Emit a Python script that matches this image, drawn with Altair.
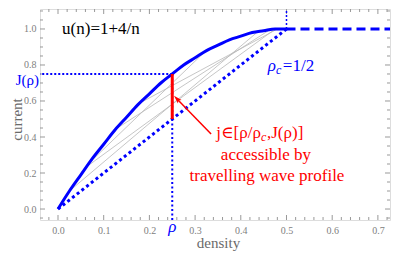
import altair as alt
import pandas as pd

# ---------------- data ----------------
rho_curve = [0.0, 0.025, 0.05, 0.075, 0.1, 0.125, 0.15, 0.175, 0.2, 0.225, 0.25,
             0.275, 0.3, 0.325, 0.35, 0.375, 0.4, 0.425, 0.45, 0.475, 0.5]
J_curve = [0.0, 0.10, 0.19, 0.28, 0.36, 0.44, 0.51, 0.58, 0.64, 0.70, 0.75,
           0.80, 0.84, 0.88, 0.91, 0.94, 0.96, 0.98, 0.99, 1.00, 1.00]

rho_sel = 0.25      # chosen density rho
J_sel = 0.75        # J(rho)
j_low = 0.50        # rho/rho_c
rho_c = 0.5
J_max = 1.0

# thin grey chords (travelling wave profiles)
chord_rho1 = [0.025, 0.06, 0.13, 0.07, 0.18]
chord_j1 = [0.10, 0.23, 0.45, 0.26, 0.59]
chord_rho2 = [0.435, 0.47, 0.46, 0.32, 0.48]
chord_j2 = [0.98, 0.99, 0.99, 0.87, 1.00]

# arrow (start -> head)
arrow_rho = [0.335, 0.261]
arrow_j = [0.417, 0.610]

x_major = [0.0, 0.1, 0.2, 0.3, 0.4, 0.5, 0.6, 0.7]
y_major = [0.0, 0.2, 0.4, 0.6, 0.8, 1.0]
x_minor = [v for v in [round(-0.02 + 0.02 * i, 2) for i in range(38)]
           if abs(v * 10 - round(v * 10)) > 1e-6]
y_minor = [v for v in [round(-0.05 + 0.05 * i, 2) for i in range(24)]
           if abs(v * 5 - round(v * 5)) > 1e-6]

# ---------------- layout ----------------
W, H = 350, 211
XMIN, XMAX = -0.0394, 0.7265
YMIN, YMAX = -0.061, 1.111
FONT = "Liberation Serif, Times New Roman, DejaVu Serif, serif"
GREY = "#999999"
BLUE = "#0000ff"
RED = "#ff0000"

xs = alt.Scale(domain=[XMIN, XMAX], nice=False, zero=False)
ys = alt.Scale(domain=[YMIN, YMAX], nice=False, zero=False)

xaxis = alt.Axis(values=x_major, format=".1f", ticks=False, domain=False, grid=False,
                 labelFont=FONT, labelFontSize=10, labelColor="#808080", labelPadding=5,
                 labelFlush=False, labelOverlap=False,
                 title="density", titleFont=FONT, titleFontSize=15, titleFontWeight="normal",
                 titleColor="#6a6a6a", titleX=178, titleY=27, titleAlign="center",
                 titleBaseline="alphabetic")
yaxis = alt.Axis(values=y_major, format=".1f", ticks=False, domain=False, grid=False,
                 labelFont=FONT, labelFontSize=10, labelColor="#808080", labelPadding=4,
                 labelFlush=False, labelOverlap=False,
                 title="current", titleFont=FONT, titleFontSize=15, titleFontWeight="normal",
                 titleColor="#6a6a6a", titleX=-24, titleY=110, titleAlign="center",
                 titleBaseline="middle", titleAngle=270)


def X(f):
    return alt.X(f, type="quantitative", scale=xs, axis=xaxis)


def Y(f):
    return alt.Y(f, type="quantitative", scale=ys, axis=yaxis)


layers = []


# frame ticks (inward)
def tick_layers(vals, length, axis):
    d = pd.DataFrame({"v": vals})
    out = []
    if axis == "x":
        out.append(alt.Chart(d).mark_rule(color=GREY, strokeWidth=1).encode(
            x=X("v"), y=alt.value(H), y2=alt.value(H - length)))
        out.append(alt.Chart(d).mark_rule(color=GREY, strokeWidth=1).encode(
            x=X("v"), y=alt.value(0), y2=alt.value(length)))
    else:
        out.append(alt.Chart(d).mark_rule(color=GREY, strokeWidth=1).encode(
            y=Y("v"), x=alt.value(0), x2=alt.value(length)))
        out.append(alt.Chart(d).mark_rule(color=GREY, strokeWidth=1).encode(
            y=Y("v"), x=alt.value(W), x2=alt.value(W - length)))
    return out


layers += tick_layers(x_major, 5, "x")
layers += tick_layers(x_minor, 3, "x")
layers += tick_layers(y_major, 5, "y")
layers += tick_layers(y_minor, 3, "y")

# grey chords
chords = pd.DataFrame({"r1": chord_rho1, "j1": chord_j1, "r2": chord_rho2, "j2": chord_j2})
layers.append(alt.Chart(chords).mark_rule(color="#b8b8b8", strokeWidth=0.8).encode(
    x=X("r1"), y=Y("j1"), x2=alt.X2("r2"), y2=alt.Y2("j2")))

# dotted helper lines
sel = pd.DataFrame({"r": [rho_sel], "J": [J_sel], "lo": [j_low]})
layers.append(alt.Chart(sel).mark_rule(color=BLUE, strokeWidth=2, strokeDash=[2, 2.5]).encode(
    x=X("r"), y=Y("J"), y2=alt.value(H)))
layers.append(alt.Chart(sel).mark_rule(color=BLUE, strokeWidth=2, strokeDash=[2, 2]).encode(
    x=X("r"), x2=alt.value(0), y=Y("J")))

crit = pd.DataFrame({"r": [rho_c], "J": [J_max], "r0": [0.0], "j0": [0.0]})
layers.append(alt.Chart(crit).mark_rule(color=BLUE, strokeWidth=1.5, strokeDash=[2, 2]).encode(
    x=X("r"), y=Y("J"), y2=alt.value(0)))
# lower bound j = rho/rho_c (dotted)
layers.append(alt.Chart(crit).mark_rule(color=BLUE, strokeWidth=3, strokeDash=[3, 3]).encode(
    x=X("r0"), y=Y("j0"), x2=alt.X2("r"), y2=alt.Y2("J")))
# plateau (dashed)
layers.append(alt.Chart(crit).mark_rule(color=BLUE, strokeWidth=3, strokeDash=[9, 5]).encode(
    x=X("r"), x2=alt.value(W), y=Y("J")))

# J(rho) curve
curve = pd.DataFrame({"r": rho_curve, "J": J_curve})
layers.append(alt.Chart(curve).mark_line(color=BLUE, strokeWidth=3, interpolate="monotone").encode(
    x=X("r"), y=Y("J")))

# red segment
layers.append(alt.Chart(sel).mark_rule(color=RED, strokeWidth=3).encode(
    x=X("r"), y=Y("lo"), y2=alt.Y2("J")))

# red arrow
arr = pd.DataFrame({"r": [arrow_rho[0]], "j": [arrow_j[0]], "r2": [arrow_rho[1]], "j2": [arrow_j[1]]})
layers.append(alt.Chart(arr).mark_rule(color=RED, strokeWidth=1.5).encode(
    x=X("r"), y=Y("j"), x2=alt.X2("r2"), y2=alt.Y2("j2")))
head = pd.DataFrame({"r": [arrow_rho[1]], "j": [arrow_j[1]]})
layers.append(alt.Chart(head).mark_point(
    shape="M0,-1L0.55,0.75L0,0.4L-0.55,0.75Z", size=90, filled=True, color=RED,
    opacity=1, angle=316).encode(x=X("r"), y=Y("j")))


# text annotations
def txt(x, y, s, color, size=17, align="left", baseline="alphabetic", style="normal"):
    d = pd.DataFrame({"x": [x], "y": [y], "t": [s]})
    return alt.Chart(d).mark_text(font=FONT, fontSize=size, color=color, align=align,
                                  baseline=baseline, fontStyle=style).encode(
        x=X("x"), y=Y("y"), text="t:N")


layers.append(txt(0.009, 0.972, "u(n)=1+4/n", "#000000"))
layers.append(txt(-0.0416, 0.69, "J(ρ)", BLUE, size=15, align="right"))
layers.append(txt(0.25, -0.128, "ρ", BLUE, align="center", style="italic"))
layers.append(txt(0.477, 0.767, "ρ", BLUE, align="right", style="italic"))
layers.append(txt(0.477, 0.750, "c", BLUE, size=12, style="italic"))
layers.append(txt(0.492, 0.767, "=1/2", BLUE))
layers.append(txt(0.444, 0.394, "j∈[ρ/ρ", RED, align="right"))
layers.append(txt(0.444, 0.378, "c", RED, size=12, style="italic"))
layers.append(txt(0.4573, 0.394, ",J(ρ)]", RED))
layers.append(txt(0.455, 0.272, "accessible by", RED, align="center"))
layers.append(txt(0.4573, 0.156, "travelling wave profile", RED, align="center"))

chart = alt.layer(*layers).properties(
    width=W, height=H,
    autosize=alt.AutoSizeParams(type="none"),
    padding={"left": 32, "top": 1, "right": 1, "bottom": 31},
).configure_view(stroke=GREY, strokeWidth=1).configure(background="white")

chart.save("out.html", embed_options={"renderer": "svg", "actions": False})
